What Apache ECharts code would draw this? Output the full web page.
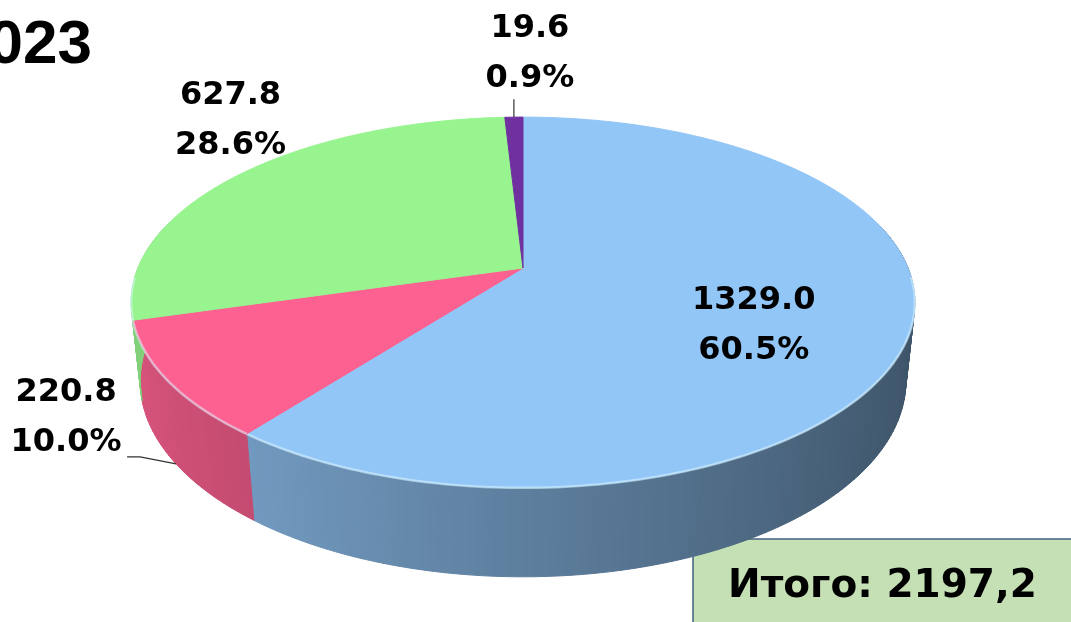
<!DOCTYPE html>
<html>
<head>
<meta charset="utf-8">
<script src="https://cdn.jsdelivr.net/npm/echarts@6/dist/echarts.min.js"></script>
<style>
  html, body { margin: 0; padding: 0; background: #fff; }
  #chart { width: 1071px; height: 622px; }
</style>
</head>
<body>
<div id="chart"></div>
<script>
// данные
const values = [1329.0, 220.8, 627.8, 19.6]
const topColors = ['#92C6F7', '#FD6191', '#97F48F', '#7030A0']
const titleText = '2023'
const totalPrefix = 'Итого: '

// геометрия наклонённого диска (радиус пирога = 1)
const TILT = 27.7 * Math.PI / 180
const CAM = 4.76 // расстояние камеры / радиус
const DEPTH = 0.233 // толщина / радиус
const SIN = Math.sin(TILT)
const COS = Math.cos(TILT)
const PX = 385 // пикселей на единицу
const APEX = [523, 268]

// подписи: якорь на срезе + сдвиг в пикселях
const labelLayout = [
  { r: 0.6, z: 0, dx: 4, dy: 22 },
  { r: 1, z: -DEPTH, dx: -110, dy: -46, leader: [[-36, -7], [-49, -7]] },
  { r: 1, z: 0, dx: -9, dy: -54 },
  { r: 1, z: 0, dx: 16, dy: -63, leader: [[0, -18]] },
]

const total = values.reduce((a, b) => a + b, 0)
let acc = 0
const sliceData = values.map((v, i) => {
  const item = [acc / total, (acc + v) / total, i]
  acc += v
  return item
})

function angle(frac) {
  return Math.PI / 2 - 2 * Math.PI * frac
}

function project(phi, r, z) {
  const x = r * Math.cos(phi)
  const y = r * Math.sin(phi)
  const up = y * SIN + z * COS
  const d = y * COS - z * SIN
  const k = 1 + d / CAM
  return [x / k, up / k]
}

function shade(hex, f) {
  const n = parseInt(hex.slice(1), 16)
  const r = Math.round(((n >> 16) & 255) * f)
  const g = Math.round(((n >> 8) & 255) * f)
  const b = Math.round((n & 255) * f)
  return 'rgb(' + r + ',' + g + ',' + b + ')'
}

function renderWall(params, api) {
  const a0 = angle(api.value(0))
  const a1 = angle(api.value(1))
  const i = api.value(2)
  const n = Math.max(2, Math.ceil(Math.abs(a1 - a0) / (Math.PI / 180)))
  const segs = []
  for (let j = 0; j < n; j++) {
    const p0 = a0 + (a1 - a0) * j / n
    const p1 = a0 + (a1 - a0) * (j + 1) / n
    const pm = (p0 + p1) / 2
    if (Math.sin(pm) > 0.25) continue
    const pts = [project(p0, 1, 0), project(p1, 1, 0), project(p1, 1, -DEPTH), project(p0, 1, -DEPTH)]
      .map(p => api.coord(p))
    const color = shade(topColors[i], 0.64 - 0.22 * Math.cos(pm))
    segs.push({ depth: Math.sin(pm), pts: pts, color: color })
  }
  segs.sort((a, b) => b.depth - a.depth)
  return {
    type: 'group',
    children: segs.map(s => ({
      type: 'polygon',
      shape: { points: s.pts },
      style: { fill: s.color, stroke: s.color, lineWidth: 1 },
    })),
  }
}

function renderTop(params, api) {
  const a0 = angle(api.value(0))
  const a1 = angle(api.value(1))
  const i = api.value(2)
  const n = Math.max(2, Math.ceil(Math.abs(a1 - a0) / (Math.PI / 180)))
  const rim = []
  for (let j = 0; j <= n; j++) {
    rim.push(a0 + (a1 - a0) * j / n)
  }
  const pts = [api.coord(project(0, 0, 0))].concat(rim.map(p => api.coord(project(p, 1, 0))))
  const front = rim.filter(p => Math.sin(p) < -0.05).map(p => api.coord(project(p, 1, 0)))
  const children = [{
    type: 'polygon',
    shape: { points: pts },
    style: { fill: topColors[i], stroke: topColors[i], lineWidth: 1 },
  }]
  if (front.length > 1) {
    children.push({
      type: 'polyline',
      shape: { points: front },
      style: { stroke: 'rgba(220,245,255,0.55)', lineWidth: 2.5, fill: null },
    })
  }
  return { type: 'group', children: children }
}

function renderLabel(params, api) {
  const f0 = api.value(0)
  const f1 = api.value(1)
  const i = api.value(2)
  const lay = labelLayout[i]
  const mid = angle((f0 + f1) / 2)
  const anchor = api.coord(project(mid, lay.r, lay.z))
  const pct = ((f1 - f0) * 100).toFixed(1) + '%'
  const children = [{
    type: 'text',
    x: anchor[0] + lay.dx,
    y: anchor[1] + lay.dy,
    style: {
      text: values[i].toFixed(1) + '\n' + pct,
      fill: '#000',
      fontFamily: 'DejaVu Sans',
      fontWeight: 'bold',
      fontSize: 32,
      lineHeight: 50,
      align: 'center',
      verticalAlign: 'middle',
    },
  }]
  if (lay.leader) {
    const pts = [anchor].concat(lay.leader.map(o => [anchor[0] + o[0], anchor[1] + o[1]]))
    children.push({
      type: 'polyline',
      shape: { points: pts },
      style: { stroke: '#333', lineWidth: 1.2, fill: null },
    })
  }
  return { type: 'group', children: children }
}

var chart = echarts.init(document.getElementById('chart'))
chart.setOption({
  animation: false,
  backgroundColor: '#fff',
  grid: { left: 0, right: 0, top: 0, bottom: 0 },
  xAxis: { type: 'value', min: -APEX[0] / PX, max: (1071 - APEX[0]) / PX, show: false },
  yAxis: { type: 'value', min: -(622 - APEX[1]) / PX, max: APEX[1] / PX, show: false },
  series: [
    { type: 'custom', renderItem: renderWall, data: sliceData, silent: true, z: 1 },
    { type: 'custom', renderItem: renderTop, data: sliceData, silent: true, z: 2 },
    { type: 'custom', renderItem: renderLabel, data: sliceData, silent: true, z: 3 },
  ],
  graphic: [
    {
      type: 'text',
      x: 92,
      y: 46,
      style: {
        text: titleText,
        fill: '#000',
        fontFamily: 'Liberation Sans',
        fontWeight: 'bold',
        fontSize: 62,
        align: 'right',
        verticalAlign: 'middle',
      },
    },
    {
      type: 'rect',
      shape: { x: 693, y: 539, width: 400, height: 100 },
      style: { fill: '#C5E0B4', stroke: '#41607F', lineWidth: 1.5 },
    },
    {
      type: 'text',
      x: 728,
      y: 587,
      style: {
        text: totalPrefix + total.toFixed(1).replace('.', ','),
        fill: '#000',
        fontFamily: 'DejaVu Sans',
        fontWeight: 'bold',
        fontSize: 39,
        align: 'left',
        verticalAlign: 'middle',
      },
    },
  ],
})
</script>
</body>
</html>
